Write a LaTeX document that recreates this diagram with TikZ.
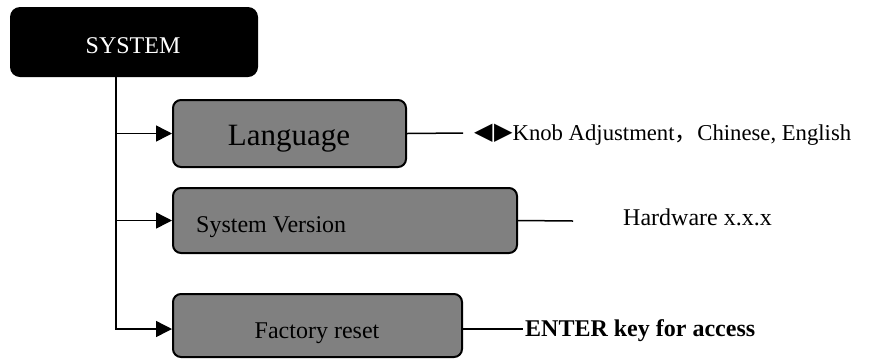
\documentclass[tikz,border=0pt]{standalone}
\usepackage{fontspec}
\setmainfont{Liberation Serif}
\newfontfamily\symfont{DejaVu Sans}
\newfontfamily\cjkfont{Noto Sans CJK SC}
\usetikzlibrary{arrows.meta}
\definecolor{boxgray}{RGB}{128,128,128}

\begin{document}
\begin{tikzpicture}[x=1pt,y=-1pt,
  menubox/.style={draw=black, line width=2pt, fill=boxgray, rounded corners=8pt,
                  inner sep=0pt},
  topbox/.style={fill=black, rounded corners=10pt, inner sep=0pt},
  caption/.style={inner sep=0pt, text=black},
  wire/.style={draw=black, line width=1.5pt},
  feed/.style={wire, -{Triangle[length=16pt,width=16pt]}}
]
\useasboundingbox (0,0) rectangle (874,360);

% root menu
\node[topbox, minimum width=248pt, minimum height=70pt] (sys) at (134,42) {};
\node[caption, text=white, anchor=base, font=\fontsize{24}{28}\selectfont] (systxt) at (133,53) {SYSTEM};

% sub-menu boxes
\node[menubox, minimum width=233pt, minimum height=67pt] (lang) at (289.5,133.5) {};
\node[menubox, minimum width=344pt, minimum height=65pt] (ver) at (345,220.5) {};
\node[menubox, minimum width=289pt, minimum height=63pt] (fac) at (317.5,325.5) {};

\node[caption, anchor=base, font=\fontsize{31}{34}\selectfont] (langtxt) at (289,145) {Language};
\node[caption, anchor=base west, font=\fontsize{24}{28}\selectfont] (vertxt) at (196,232) {System Version};
\node[caption, anchor=base, font=\fontsize{24}{28}\selectfont] (factxt) at (317,338) {Factory reset};

% trunk and branches
\coordinate (trunk) at (116,77);
\draw[feed] (trunk) |- ([yshift=-3.5pt]fac.west);
\draw[feed] (trunk |- lang.west) -- (lang.west);
\draw[feed] (trunk |- ver.west) -- (ver.west);

% option descriptions
\coordinate (langtail) at (463,133);
\coordinate (vertail) at (573,221);
\coordinate (factail) at (523,329);
\draw[wire] (lang.east) -- (langtail);
\draw[wire] (ver.east) -- (vertail);
\draw[wire] ([yshift=-3.5pt]fac.east) -- (factail);

\node[caption, anchor=base west, font=\fontsize{22.7}{26}\selectfont] (knob) at (474,140)
  {{\symfont\fontsize{24}{28}\selectfont\raisebox{1pt}{◀\kern1.5pt▶}}Knob Adjustment{\cjkfont ，}Chinese, English};
\node[caption, anchor=base west, font=\fontsize{24}{28}\selectfont] (hw) at (623,225) {Hardware x.x.x};
\node[caption, anchor=base west, font=\fontsize{24}{28}\selectfont\bfseries] (enter) at (525,336) {ENTER key for access};
\end{tikzpicture}
\end{document}
